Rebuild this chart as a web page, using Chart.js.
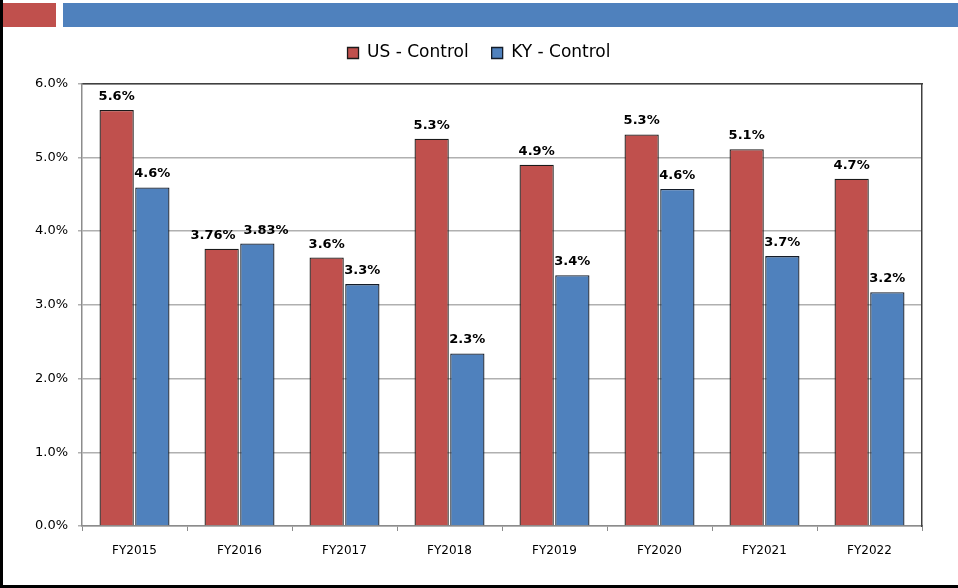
<!DOCTYPE html>
<html>
<head>
<meta charset="utf-8">
<script src="https://cdn.jsdelivr.net/npm/chart.js@4.4.1/dist/chart.umd.min.js"></script>
<style>
  html, body { margin: 0; padding: 0; background: #fff; }
  #wrap { position: relative; width: 958px; height: 588px; overflow: hidden; }
  #chart { position: absolute; left: 0; top: 0; }
  .deco { position: absolute; }
</style>
</head>
<body>
<div id="wrap">
  <canvas id="chart" width="958" height="588"></canvas>
  <div class="deco" style="left:3px;top:3px;width:53px;height:24px;background:#C0504D"></div>
  <div class="deco" style="left:63px;top:3px;width:895px;height:24px;background:#4F81BD"></div>
  <div class="deco" style="left:0;top:0;width:3px;height:588px;background:#000"></div>
  <div class="deco" style="left:0;top:585px;width:958px;height:3px;background:#000"></div>
</div>
<script>
// --- Data ---
const years = ['FY2015', 'FY2016', 'FY2017', 'FY2018', 'FY2019', 'FY2020', 'FY2021', 'FY2022'];
const usControl = [5.64, 3.76, 3.64, 5.25, 4.90, 5.31, 5.11, 4.71];
const kyControl = [4.59, 3.83, 3.28, 2.34, 3.40, 4.57, 3.66, 3.17];
const usText = ['5.6%', '3.76%', '3.6%', '5.3%', '4.9%', '5.3%', '5.1%', '4.7%'];
const kyText = ['4.6%', '3.83%', '3.3%', '2.3%', '3.4%', '4.6%', '3.7%', '3.2%'];
const yTicks = [0, 1, 2, 3, 4, 5, 6];

const FONT = "'DejaVu Sans', sans-serif";

// value labels above each bar; pairs that would collide get pushed apart
const valueLabels = {
  id: 'valueLabels',
  afterDatasetsDraw(chart) {
    const ctx = chart.ctx;
    ctx.save();
    ctx.font = 'bold 13px ' + FONT;
    ctx.fillStyle = '#000';
    ctx.textAlign = 'center';
    ctx.textBaseline = 'alphabetic';
    const m0 = chart.getDatasetMeta(0).data;
    const m1 = chart.getDatasetMeta(1).data;
    const t0 = chart.data.datasets[0].valueText;
    const t1 = chart.data.datasets[1].valueText;
    for (let j = 0; j < m0.length; j++) {
      const a = m0[j], b = m1[j];
      let xa = a.x, xb = b.x;
      const ya = a.y - 10, yb = b.y - 10;
      const wa = ctx.measureText(t0[j]).width, wb = ctx.measureText(t1[j]).width;
      const overlap = (xa + wa / 2) - (xb - wb / 2) + 8;
      if (overlap > 0 && Math.abs(ya - yb) < 14) {
        xa -= overlap / 2;
        xb += overlap / 2;
      }
      ctx.fillText(t0[j], xa, ya);
      ctx.fillText(t1[j], xb, yb);
    }
    ctx.restore();
  }
};

new Chart(document.getElementById('chart'), {
  type: 'bar',
  data: {
    labels: years,
    datasets: [
      { label: 'US - Control', data: usControl, valueText: usText,
        backgroundColor: '#C0504D', borderColor: '#1a1a1a', borderWidth: 1.3 },
      { label: 'KY - Control', data: kyControl, valueText: kyText,
        backgroundColor: '#4F81BD', borderColor: '#141c28', borderWidth: 1.3 }
    ]
  },
  options: {
    responsive: false,
    animation: false,
    devicePixelRatio: 1,
    categoryPercentage: 0.68,
    barPercentage: 0.96,
    layout: { padding: { top: 21.5, right: 0, bottom: 22, left: 0 } },
    plugins: {
      legend: {
        position: 'top',
        labels: {
          font: { family: FONT, size: 17 },
          color: '#000',
          boxWidth: 11,
          boxHeight: 11,
          padding: 23
        }
      },
      tooltip: { enabled: false }
    },
    scales: {
      x: {
        grid: { display: true, drawOnChartArea: false, tickLength: 5, color: '#8c8c8c' },
        border: { color: '#8c8c8c', width: 1.5 },
        ticks: { font: { family: FONT, size: 12 }, color: '#000', padding: 13 },
        afterFit(s) { s.height = 40; }
      },
      // top frame of the plot area
      x2: {
        type: 'category',
        position: 'top',
        grid: { display: true, drawOnChartArea: false, drawTicks: false },
        border: { color: '#404040', width: 1.5 },
        ticks: { display: false },
        afterFit(s) { s.height = 12; }
      },
      y: {
        min: 0,
        max: 6,
        afterBuildTicks(s) { s.ticks = yTicks.map(v => ({ value: v })); },
        grid: { color: '#b0b0b0', lineWidth: 1.5, tickLength: 4 },
        border: { color: '#8c8c8c', width: 1.5 },
        ticks: {
          font: { family: FONT, size: 13 },
          color: '#000',
          padding: 10,
          callback: v => v.toFixed(1) + '%'
        },
        afterFit(s) { s.width = 82; }
      },
      // right frame of the plot area
      y2: {
        type: 'linear',
        position: 'right',
        min: 0,
        max: 6,
        grid: { display: true, drawOnChartArea: false, drawTicks: false },
        border: { color: '#404040', width: 1.5 },
        ticks: { display: false },
        afterFit(s) { s.width = 36; }
      }
    }
  },
  plugins: [valueLabels]
});
</script>
</body>
</html>
